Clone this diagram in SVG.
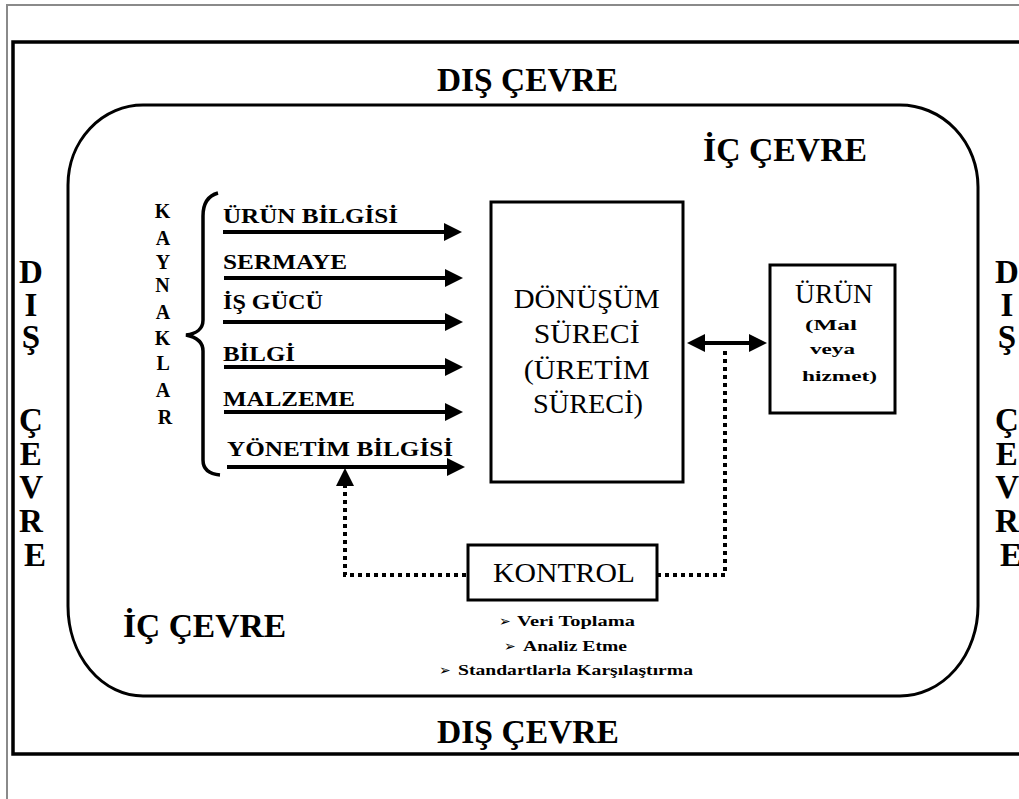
<svg xmlns="http://www.w3.org/2000/svg" width="1019" height="799" viewBox="0 0 1019 799">
  <style>
    .serif { font-family: "Liberation Serif", "Times New Roman", serif; fill: #000; }
    .b { font-weight: bold; }
    .big { font-size: 34px; }
    .side { font-size: 33px; font-weight: bold; text-anchor: middle; }
    .kay { font-size: 20px; font-weight: bold; text-anchor: middle; }
    .lbl { font-size: 20px; font-weight: bold; }
    .proc { font-size: 27px; text-anchor: middle; }
    .small { font-size: 15px; font-weight: bold; }
    .bul { font-family: "DejaVu Sans", sans-serif; font-size: 14px; }
    .box { fill: #fff; stroke: #000; stroke-width: 3; }
    .flow { fill: none; stroke: #000; stroke-width: 4; marker-end: url(#ah); }
    .dot { fill: none; stroke: #000; stroke-width: 4; stroke-dasharray: 4 4; }
  </style>
  <defs>
    <marker id="ah" viewBox="0 0 18 18" markerWidth="18" markerHeight="18" markerUnits="userSpaceOnUse" refX="8" refY="9" orient="auto-start-reverse">
      <path d="M0,0 L18,9 L0,18 z" fill="#000"/>
    </marker>
  </defs>

  <rect width="1019" height="799" fill="#fff"/>

  <g id="frame">
    <path d="M7,805 V5 H1025" fill="none" stroke="#8a8a8a" stroke-width="2"/>
    <rect x="13" y="42" width="1020" height="712" fill="none" stroke="#000" stroke-width="3.5"/>
  </g>

  <g id="dis-cevre-labels" class="serif">
    <text class="b big" x="437" y="91" textLength="181" lengthAdjust="spacingAndGlyphs">DIŞ ÇEVRE</text>
    <text class="b big" x="437" y="743" textLength="182" lengthAdjust="spacingAndGlyphs">DIŞ ÇEVRE</text>
    <text class="side">
      <tspan x="35" y="283">D</tspan>
      <tspan x="35" y="316">I</tspan>
      <tspan x="35" y="348">Ş</tspan>
      <tspan x="35" y="431">Ç</tspan>
      <tspan x="35" y="465">E</tspan>
      <tspan x="35" y="498">V</tspan>
      <tspan x="35" y="532">R</tspan>
      <tspan x="35" y="566">E</tspan>
    </text>
    <text class="side">
      <tspan x="1011" y="283">D</tspan>
      <tspan x="1011" y="316">I</tspan>
      <tspan x="1011" y="348">Ş</tspan>
      <tspan x="1011" y="431">Ç</tspan>
      <tspan x="1011" y="465">E</tspan>
      <tspan x="1011" y="498">V</tspan>
      <tspan x="1011" y="532">R</tspan>
      <tspan x="1011" y="566">E</tspan>
    </text>
  </g>

  <g id="ic-cevre">
    <path d="M143,105 H900 A78,82 0 0 1 978,187 V606 A78,90 0 0 1 900,696 H143 A75,90 0 0 1 68,606 V185 A75,80 0 0 1 143,105 Z" fill="none" stroke="#000" stroke-width="3"/>
    <text class="serif b big" x="703" y="161" textLength="164" lengthAdjust="spacingAndGlyphs">İÇ ÇEVRE</text>
    <text class="serif b big" x="123" y="637" textLength="163" lengthAdjust="spacingAndGlyphs">İÇ ÇEVRE</text>
  </g>

  <g id="kaynaklar">
    <text class="serif kay">
      <tspan x="165" y="218">K</tspan>
      <tspan x="165" y="245">A</tspan>
      <tspan x="165" y="269">Y</tspan>
      <tspan x="165" y="292">N</tspan>
      <tspan x="165" y="319">A</tspan>
      <tspan x="165" y="345">K</tspan>
      <tspan x="165" y="370">L</tspan>
      <tspan x="165" y="397">A</tspan>
      <tspan x="165" y="424">R</tspan>
    </text>
    <path d="M218,193 C207,196 203,204 203,216 L203,320 C203,329 196,334 186,335 C196,337 203,342 203,351 L203,460 C203,469 209,474 220,475" fill="none" stroke="#000" stroke-width="3.5"/>
  </g>

  <g id="input-labels" class="serif lbl">
    <text id="lbl-urun-bilgisi" x="223" y="223" textLength="175" lengthAdjust="spacingAndGlyphs">ÜRÜN BİLGİSİ</text>
    <text id="lbl-sermaye" x="223" y="269" textLength="124" lengthAdjust="spacingAndGlyphs">SERMAYE</text>
    <text id="lbl-is-gucu" x="223" y="309" textLength="100" lengthAdjust="spacingAndGlyphs">İŞ GÜCÜ</text>
    <text id="lbl-bilgi" x="223" y="361" textLength="72" lengthAdjust="spacingAndGlyphs">BİLGİ</text>
    <text id="lbl-malzeme" x="223" y="406" textLength="132" lengthAdjust="spacingAndGlyphs">MALZEME</text>
    <text id="lbl-yonetim" x="227" y="456" textLength="226" lengthAdjust="spacingAndGlyphs">YÖNETİM BİLGİSİ</text>
  </g>

  <g id="donusum">
    <rect class="box" x="491" y="202" width="192" height="280"/>
    <text class="serif proc">
      <tspan x="590" y="308" textLength="146" lengthAdjust="spacingAndGlyphs">DÖNÜŞÜM</tspan>
      <tspan x="590" y="343" textLength="106" lengthAdjust="spacingAndGlyphs">SÜRECİ</tspan>
      <tspan x="590" y="379" textLength="126" lengthAdjust="spacingAndGlyphs">(ÜRETİM</tspan>
      <tspan x="588" y="413" textLength="110" lengthAdjust="spacingAndGlyphs">SÜRECİ)</tspan>
    </text>
  </g>

  <g id="urun">
    <rect class="box" x="770" y="265" width="125" height="148"/>
    <text class="serif proc" x="834" y="303" textLength="78" lengthAdjust="spacingAndGlyphs">ÜRÜN</text>
    <text class="serif small" x="805" y="330" textLength="52" lengthAdjust="spacingAndGlyphs">(Mal</text>
    <text class="serif small" x="810" y="354" textLength="45" lengthAdjust="spacingAndGlyphs">veya</text>
    <text class="serif small" x="802" y="381" textLength="75" lengthAdjust="spacingAndGlyphs">hizmet)</text>
  </g>

  <g id="kontrol">
    <rect class="box" x="468" y="545" width="189" height="55"/>
    <text class="serif" x="493" y="582" font-size="28" textLength="142" lengthAdjust="spacingAndGlyphs">KONTROL</text>
    <text class="serif small" x="499" y="626"><tspan class="bul">➢</tspan><tspan x="517" textLength="118" lengthAdjust="spacingAndGlyphs">Veri Toplama</tspan></text>
    <text class="serif small" x="504" y="651"><tspan class="bul">➢</tspan><tspan x="523" textLength="104" lengthAdjust="spacingAndGlyphs">Analiz Etme</tspan></text>
    <text class="serif small" x="439" y="675"><tspan class="bul">➢</tspan><tspan x="458" textLength="235" lengthAdjust="spacingAndGlyphs">Standartlarla Karşılaştırma</tspan></text>
  </g>

  <g id="connectors">
    <line class="flow" x1="223" y1="232" x2="452" y2="232"/>
    <line class="flow" x1="224" y1="278" x2="453" y2="278"/>
    <line class="flow" x1="223" y1="322" x2="453" y2="322"/>
    <line class="flow" x1="224" y1="367" x2="453" y2="367"/>
    <line class="flow" x1="224" y1="412" x2="453" y2="412"/>
    <line class="flow" x1="227" y1="467" x2="455" y2="467"/>
    <line x1="697" y1="343" x2="757" y2="343" stroke="#000" stroke-width="4" marker-start="url(#ah)" marker-end="url(#ah)"/>
    <path class="dot" d="M657,575 H725 V347"/>
    <path class="dot" d="M466,575 H345 V480"/>
    <line x1="345" y1="486" x2="345" y2="478" stroke="#000" stroke-width="4" marker-end="url(#ah)"/>
  </g>
</svg>
